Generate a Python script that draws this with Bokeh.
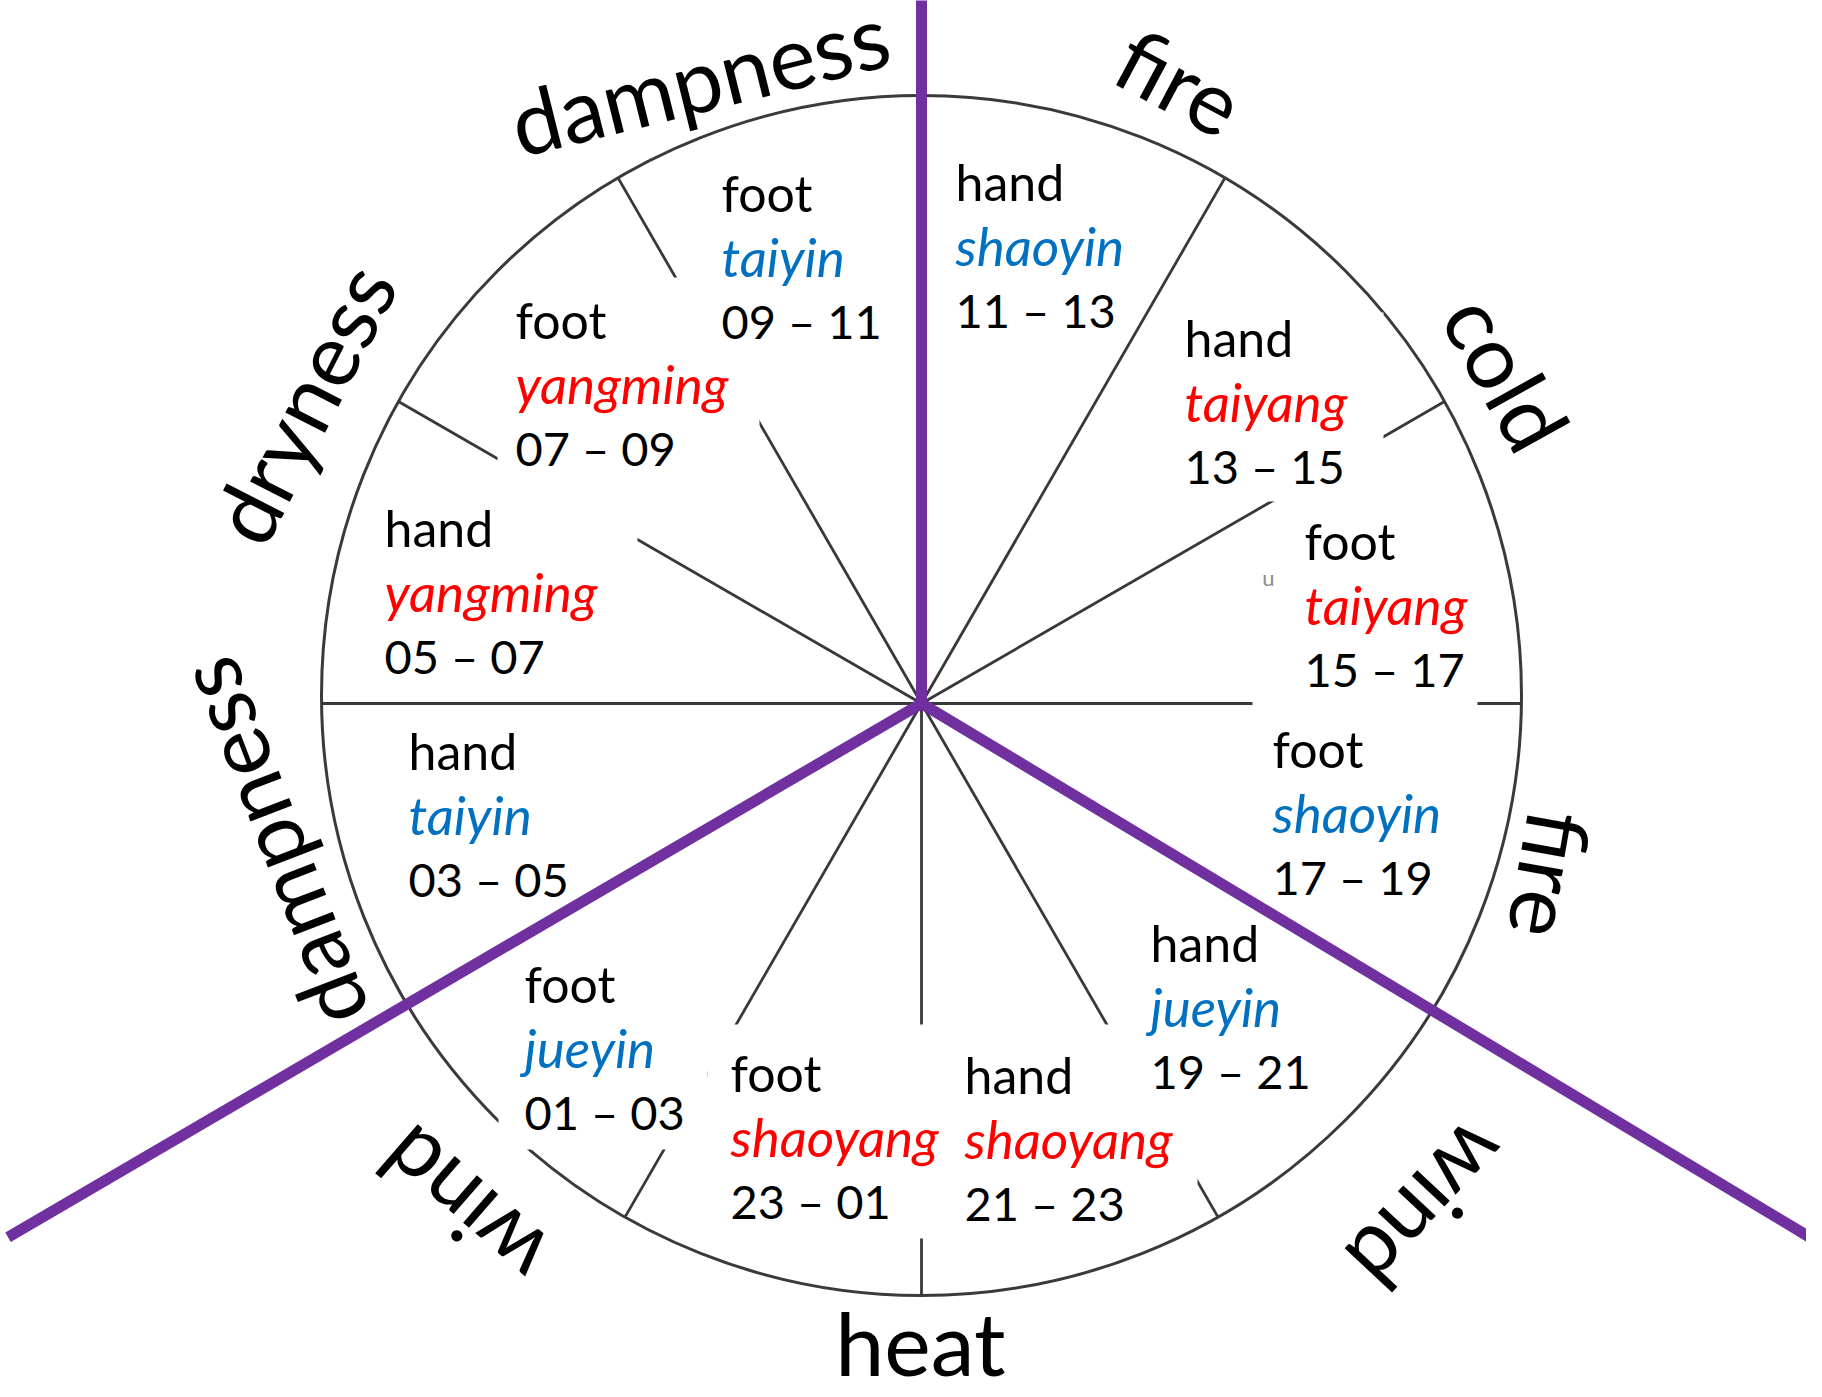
import math
from bokeh.plotting import figure
from bokeh.models import Range1d, ColumnDataSource
from bokeh.core.properties import value
from bokeh.embed import file_html
from bokeh.resources import INLINE

# ---------------- data ----------------
hours = ["11 \u2013 13", "13 \u2013 15", "15 \u2013 17", "17 \u2013 19", "19 \u2013 21", "21 \u2013 23",
         "23 \u2013 01", "01 \u2013 03", "03 \u2013 05", "05 \u2013 07", "07 \u2013 09", "09 \u2013 11"]
limbs = ["hand", "hand", "foot", "foot", "hand", "hand",
         "foot", "foot", "hand", "hand", "foot", "foot"]
channels = ["shaoyin", "taiyang", "taiyang", "shaoyin", "jueyin", "shaoyang",
            "shaoyang", "jueyin", "taiyin", "yangming", "yangming", "taiyin"]
polarity = ["yin", "yang", "yang", "yin", "yin", "yang",
            "yang", "yin", "yin", "yang", "yang", "yin"]
qi = ["fire", "cold", "fire", "wind", "heat", "wind", "dampness", "dryness", "dampness"]
spoke_deg = [90, 60, 30, 0, -30, -60, -90, -120, -150, 180, 150, 120]
divider_deg = [90, 210.3, 329]

# ---------------- layout (reference pixel space) ----------------
CX, CY, R = 929, 703, 600          # circle centre / radius
HX, HY = 929, 711                  # hub where spokes and dividers meet
W, H = 1806, 1381

# text anchor per sector: left x, first baseline
anchor_x = [963, 1192, 1312, 1280, 1158, 972, 738, 532, 416, 392, 523, 729]
anchor_b = [189, 345, 548, 756, 950, 1082, 1080, 991, 758, 535, 327, 200]
LINE = 64
# white label boxes: left, top, right, bottom
box_l = [935, 1167, 1289, 1260, 1133, 941, 715, 506, 395, 372, 505, 705]
box_t = [138, 320, 500, 698, 906, 1032, 1032, 930, 722, 485, 285, 150]
box_r = [1125, 1391, 1485, 1485, 1325, 1205, 941, 715, 600, 645, 767, 900]
box_b = [353, 509, 700, 912, 1116, 1230, 1246, 1157, 915, 697, 488, 345]

# outer labels: polar angle (deg), radius, text rotation (deg)
lab_theta = [67.2, 28.9, -15.9, -45.2, -90.1, 228.1, 192.8, 154.7, 109.8]
lab_r = [667, 669, 655, 721, 647, 688, 668, 685, 656]
lab_rot = [-28, -61, -100, -133, 0, 139, 111, 63, 14]

colors = {"yin": "#0070C0", "yang": "#FF0000"}
PURPLE = "#7030A0"


def X(rx):
    return rx - CX


def Y(ry):
    return CY - ry


p = figure(width=W, height=H, x_range=Range1d(X(8), X(8 + W)), y_range=Range1d(Y(8 + H), Y(8)),
           output_backend="svg", toolbar_location=None, min_border=0,
           x_axis_type=None, y_axis_type=None)
p.grid.visible = False
p.outline_line_color = None
p.background_fill_color = "white"

# circle
p.circle(x=[0], y=[0], radius=R, fill_color=None, line_color="#3a3a3a", line_width=3)

# spokes from hub to circle (those under a divider follow the divider)
hx, hy = X(HX), Y(HY)
x0, y0, x1, y1 = [], [], [], []
for a in spoke_deg:
    for d in divider_deg:
        if abs(((a - d + 180) % 360) - 180) < 2:
            a = d
    dx, dy = math.cos(math.radians(a)), math.sin(math.radians(a))
    b = dx * hx + dy * hy
    c = hx * hx + hy * hy - R * R
    t = -b + math.sqrt(b * b - c)
    x0.append(hx); y0.append(hy); x1.append(hx + t * dx); y1.append(hy + t * dy)
p.segment(x0=x0, y0=y0, x1=x1, y1=y1, line_color="#383838", line_width=2.8)

# white boxes
p.quad(left=[X(v) for v in box_l], right=[X(v) for v in box_r],
       top=[Y(v) for v in box_t], bottom=[Y(v) for v in box_b],
       fill_color="white", line_color=None)

# sector texts
src = ColumnDataSource(dict(
    x=[X(v) for v in anchor_x],
    y1=[Y(v) for v in anchor_b],
    y2=[Y(v + LINE) for v in anchor_b],
    y3=[Y(v + 2 * LINE) for v in anchor_b],
    limb=limbs, chan=channels, hrs=hours,
    col=[colors[v] for v in polarity],
))
common = dict(text_font=value("Lato"), text_align="left", text_baseline="alphabetic", source=src)
p.text(x="x", y="y1", text="limb", text_color="black", text_font_size="50px", **common)
p.text(x="x", y="y2", text="chan", text_color="col", text_font_style="italic",
       text_font_size="53px", **common)
p.text(x="x", y="y3", text="hrs", text_color="black", text_font_size="47px", **common)

# small scan residue
p.text(x=[X(1276)], y=[Y(585)], text=["u"], text_color="#8c8c8c", text_font=value("Lato"),
       text_font_size="22px", text_align="center", text_baseline="middle")

# outer qi labels
lsrc = ColumnDataSource(dict(
    x=[r * math.cos(math.radians(t)) for r, t in zip(lab_r, lab_theta)],
    y=[r * math.sin(math.radians(t)) for r, t in zip(lab_r, lab_theta)],
    a=[math.radians(v) for v in lab_rot],
    t=qi,
))
p.text(x="x", y="y", text="t", angle="a", source=lsrc, text_color="black",
       text_font=value("Lato"), text_font_size="88px", text_align="center", text_baseline="middle")

# purple dividers
lengths = [800, 1058, 1100]
px1 = [hx + L * math.cos(math.radians(a)) for a, L in zip(divider_deg, lengths)]
py1 = [hy + L * math.sin(math.radians(a)) for a, L in zip(divider_deg, lengths)]
p.segment(x0=[hx] * 3, y0=[hy] * 3, x1=px1, y1=py1, line_color=PURPLE, line_width=11,
          line_cap="butt")

open("out.html", "w").write(file_html(p, INLINE))
